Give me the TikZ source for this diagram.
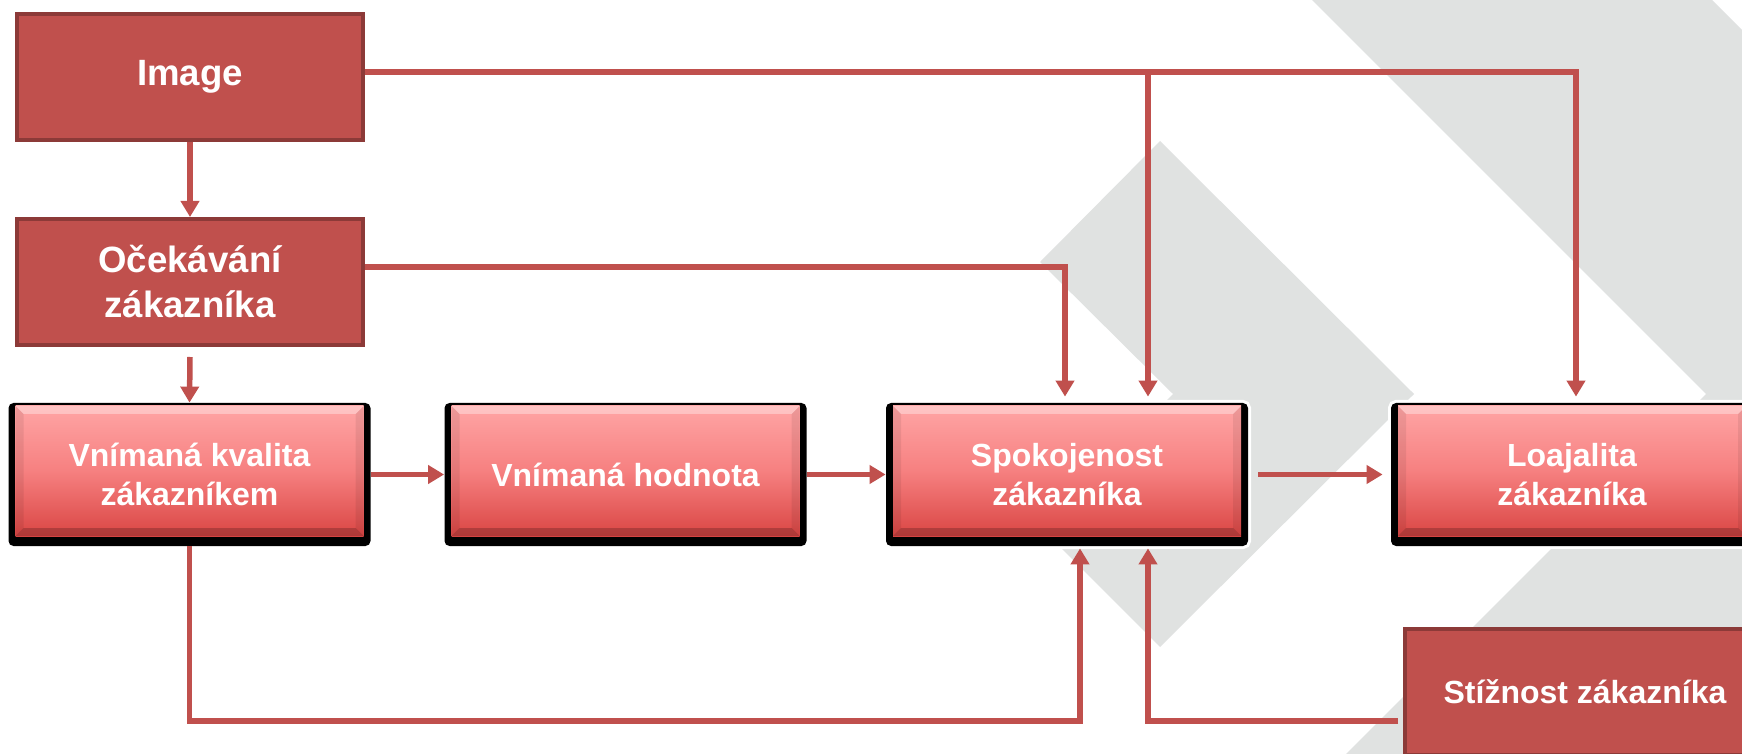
\documentclass[tikz,border=0pt]{standalone}
\usepackage{fontspec}
\setmainfont{Liberation Sans}
\usetikzlibrary{arrows.meta,calc}
\definecolor{conred}{RGB}{192,80,77}
\definecolor{darkred}{RGB}{140,58,56}
\definecolor{bggray}{RGB}{224,226,225}
\definecolor{gTop}{RGB}{255,165,165}
\definecolor{gMid}{RGB}{246,128,128}
\definecolor{gBot}{RGB}{218,70,68}
\begin{document}
\begin{tikzpicture}[x=0.5pt,y=-0.5pt,
  conn/.style={draw=conred, line width=2.75pt, -{Triangle[length=8pt,width=9pt]}},
  dbox/.style={fill=conred, draw=darkred, line width=2pt, minimum width=173pt,
    minimum height=63pt, text=white, font=\fontsize{18.3}{22.5}\selectfont\bfseries,
    align=center, inner sep=0pt},
  gbox/.style={preaction={fill=white, draw=white, line width=3pt}, fill=black,
    rounded corners=2.5pt, minimum width=181pt, minimum height=71.5pt, text=white,
    font=\fontsize{16}{19.5}\selectfont\bfseries, align=center, inner sep=0pt,
    path picture={
      \coordinate (pNW) at ($(path picture bounding box.north west)+(3.5pt,-1.5pt)$);
      \coordinate (pSE) at ($(path picture bounding box.south east)+(-3.5pt,5pt)$);
      \coordinate (pNE) at (pSE |- pNW);
      \coordinate (pSW) at (pNW |- pSE);
      \fill[sharp corners, top color=gTop, bottom color=gBot, middle color=gMid] (pNW) rectangle (pSE);
      \fill[sharp corners, white, opacity=0.35] (pNW) -- (pNE) -- ($(pNE)+(-4pt,-4pt)$) -- ($(pNW)+(4pt,-4pt)$) -- cycle;
      \fill[sharp corners, black, opacity=0.2] (pSW) -- (pSE) -- ($(pSE)+(-4pt,4pt)$) -- ($(pSW)+(4pt,4pt)$) -- cycle;
      \fill[sharp corners, black, opacity=0.07] (pNW) -- ($(pNW)+(4pt,-4pt)$) -- ($(pSW)+(4pt,4pt)$) -- (pSW) -- cycle;
      \fill[sharp corners, black, opacity=0.07] (pNE) -- ($(pNE)+(-4pt,-4pt)$) -- ($(pSE)+(-4pt,4pt)$) -- (pSE) -- cycle;
    }}
]
\useasboundingbox (0,0) rectangle (1742,754);
\fill[white] (0,0) rectangle (1742,754);
% background chevrons
\fill[bggray] (1160,141) -- (1414,394) -- (1160,647) -- (1040,527) -- (1173,394) -- (1040,262) -- cycle;
\fill[bggray] (1312,0) -- (1712,0) -- (2106,394) -- (1746,754) -- (1346,754) -- (1706,394) -- cycle;

% boxes
\node[dbox] (img) at (190,77) {Image};
\node[dbox] (oce) at (190,282) {Očekávání\\zákazníka};
\node[gbox] (vk) at (189.5,474.5) {Vnímaná kvalita\\zákazníkem};
\node[gbox] (vh) at (625.5,474.5) {Vnímaná hodnota};
\node[gbox] (sp) at (1067,474.5) {Spokojenost\\zákazníka};
\node[gbox] (lo) at (1572,474.5) {Loajalita\\zákazníka};
\node[dbox, minimum width=180pt, font=\fontsize{16}{19}\selectfont\bfseries] (stz) at (1585,692) {Stížnost zákazníka};

% helper coordinates
\coordinate (imgR) at ([yshift=2.5pt]img.east);
\coordinate (oceR) at ([yshift=7.5pt]oce.east);
\coordinate (spT1) at ([xshift=-1pt,yshift=3pt]sp.north);
\coordinate (spT2) at ([xshift=40.5pt,yshift=3pt]sp.north);
\coordinate (loT) at ([xshift=2pt,yshift=3pt]lo.north);
\coordinate (spB1) at ([xshift=6.5pt,yshift=-1pt]sp.south);
\coordinate (spB2) at ([xshift=40.5pt,yshift=-1pt]sp.south);
\coordinate (stzL) at ([xshift=-2.5pt,yshift=-14.5pt]stz.west);

% connectors
\draw[conn] (img.south) -- (oce.north);
\draw[conn] ([yshift=-5pt]oce.south) -- (vk.north);
\draw[conn] (vk.east) -- (vh.west);
\draw[conn] (vh.east) -- (sp.west);
\draw[conn] ([xshift=5pt]sp.east) -- ([xshift=-4pt]lo.west);
\draw[conn] (imgR) -| (loT);
\draw[conn] (imgR -| spT2) -- (spT2);
\draw[conn] (oceR) -| (spT1);
\draw[conn] (vk.south) -- (vk.south |- stzL) -| (spB1);
\draw[conn] (stzL) -| (spB2);
\end{tikzpicture}
\end{document}
